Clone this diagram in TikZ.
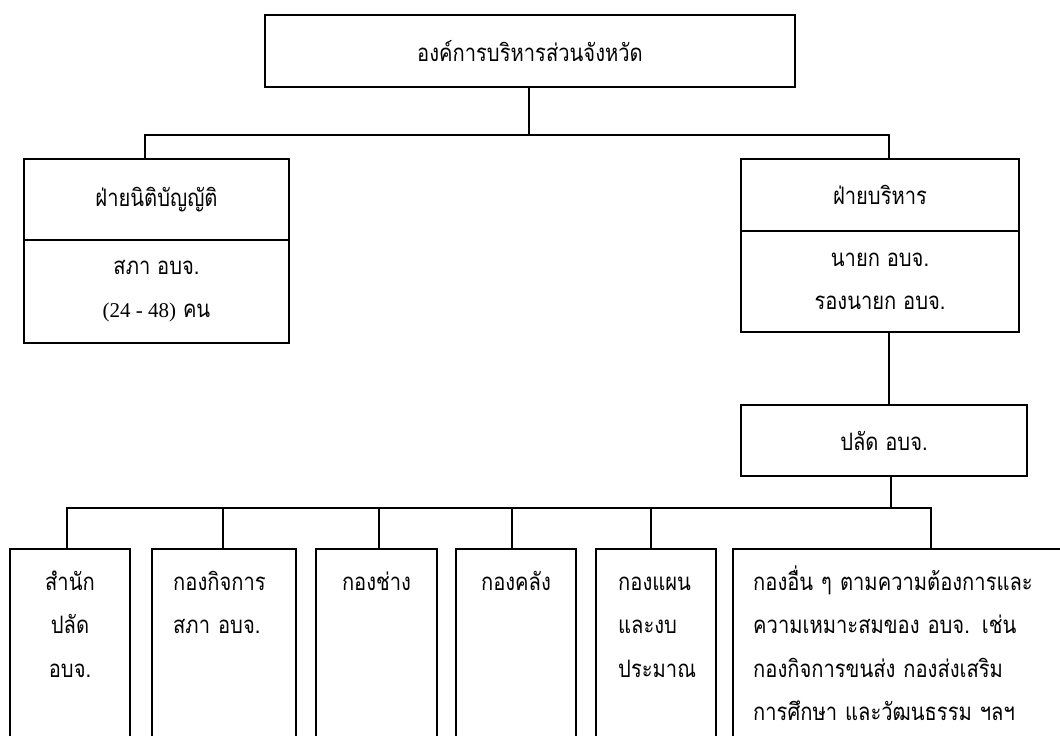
\documentclass[tikz,border=0pt]{standalone}
\usepackage{fontspec}
\newfontfamily\thaifont[Script=Thai,FakeStretch=0.84]{Loma}
\newfontfamily\latinfont{Liberation Serif}
\tikzset{
  unit/.style={draw, line width=1.5pt, inner sep=0pt, align=center,
    font=\thaifont\fontsize{24pt}{43pt}\selectfont},
  txt/.style={inner sep=0pt, font=\thaifont\fontsize{24pt}{43.5pt}\selectfont},
  link/.style={line width=1.5pt},
  bar/.style={line width=1.9pt},
}

\begin{document}
\begin{tikzpicture}[x=1pt,y=-1pt]
  \useasboundingbox (0,0) rectangle (1060,736);

  \node[unit, minimum width=530pt, minimum height=72pt] (pao) at (530,51) {องค์การบริหารส่วนจังหวัด};

  \node[unit, minimum width=265pt, minimum height=81pt]  (leg)     at (156.5,199.5) {ฝ่ายนิติบัญญัติ};
  \node[unit, minimum width=265pt, minimum height=103pt] (council) at (156.5,291.5) {สภา อบจ.\\{\latinfont\fontsize{21pt}{43pt}\selectfont (24 - 48)} คน};
  \node[unit, minimum width=278pt, minimum height=72pt]  (exec)    at (880,195)     {ฝ่ายบริหาร};
  \node[unit, minimum width=278pt, minimum height=101pt] (mayor)   at (880,281.5)   {นายก อบจ.\\รองนายก อบจ.};
  \node[unit, minimum width=286pt, minimum height=71pt]  (clerk)   at (884,440.5)   {ปลัด อบจ.};

  % divisions under the clerk
  \node[unit, anchor=north, minimum width=120pt, minimum height=220pt] (office)  at (70,548)    {};
  \node[unit, anchor=north, minimum width=144pt, minimum height=220pt] (affairs) at (224,548)   {};
  \node[unit, anchor=north, minimum width=121pt, minimum height=220pt] (works)   at (376.5,548) {};
  \node[unit, anchor=north, minimum width=120pt, minimum height=220pt] (finance) at (516,548)   {};
  \node[unit, anchor=north, minimum width=120pt, minimum height=220pt] (plan)    at (656,548)   {};
  \node[unit, anchor=north, minimum width=342pt, minimum height=220pt] (other)   at (904,548)   {};

  \node[txt, text width=110pt, align=center, anchor=base]      (office-t)  at (70,590)    {สำนัก\\ปลัด\\อบจ.};
  \node[txt, text width=118pt, align=left,   anchor=base west] (affairs-t) at (173,590)   {กองกิจการ\\สภา อบจ.};
  \node[txt, text width=110pt, align=center, anchor=base]      (works-t)   at (376.5,590) {กองช่าง};
  \node[txt, text width=110pt, align=center, anchor=base]      (finance-t) at (516,590)   {กองคลัง};
  \node[txt, text width=96pt,  align=left,   anchor=base west] (plan-t)    at (618,590)   {กองแผน\\และงบ\\ประมาณ};
  \node[txt, text width=310pt, align=left,   anchor=base west] (other-t)   at (753,590)
    {กองอื่น ๆ ตามความต้องการและ\\ความเหมาะสมของ อบจ. เช่น\\กองกิจการขนส่ง กองส่งเสริม\\การศึกษา และวัฒนธรรม ฯลฯ};

  \coordinate (j1) at (529,135);
  \coordinate (j2) at (891,508);

  \path[link]
    (pao.south -| 529,0) edge (j1)
    (mayor.south -| 889,0) edge (clerk.north -| 889,0)
    (clerk.south -| 891,0) edge (j2);
  \draw[bar] (leg.north -| 145,0) |- (j1) -| (exec.north -| 889,0);
  \draw[bar] (office.north -| 67,0) |- (j2) -| (other.north -| 931,0);
  \foreach \n/\x in {affairs/223, works/379, finance/512, plan/651}
    \draw[link] (\n.north -| \x,0) -- (j2 -| \x,0);
\end{tikzpicture}
\end{document}
